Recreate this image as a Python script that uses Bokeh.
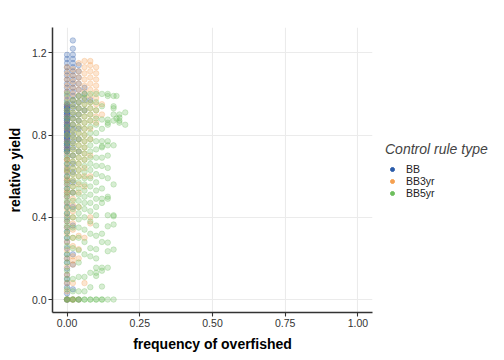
from bokeh.plotting import figure
from bokeh.models import Range1d, FixedTicker, PrintfTickFormatter, Legend, LegendItem
from bokeh.embed import file_html
from bokeh.resources import INLINE

# ---- data ----
series_names = ["BB", "BB3yr", "BB5yr"]
series_colors = ["#2B5CAA", "#F5A050", "#6DBE5D"]

bb_freq = [0.00, 0.02, 0.04, 0.06, 0.08]
bb_yield = [
    [0.00, 0.00, 0.00, 0.03, 0.06, 0.08, 0.10, 0.12, 0.15, 0.18, 0.20, 0.22, 0.25, 0.28, 0.30,
     0.33, 0.35, 0.38, 0.40, 0.42, 0.45, 0.47, 0.50, 0.52, 0.54, 0.56, 0.58, 0.60, 0.62, 0.64,
     0.66, 0.68, 0.70, 0.72, 0.73, 0.74, 0.75, 0.76, 0.77, 0.78, 0.79, 0.80, 0.81, 0.82, 0.83,
     0.84, 0.85, 0.86, 0.87, 0.88, 0.89, 0.90, 0.91, 0.92, 0.93, 0.94, 0.95, 0.97, 0.99, 1.01,
     1.03, 1.05, 1.07, 1.09, 1.11, 1.13, 1.15, 1.17, 1.19,
     0.72, 0.74, 0.76, 0.78, 0.80, 0.82, 0.84, 0.86, 0.88, 0.90, 0.92, 0.94,
     0.73, 0.75, 0.77, 0.79, 0.81, 0.83, 0.85, 0.87, 0.89, 0.91, 0.93, 0.95],
    [0.00, 0.05, 0.17, 0.22, 0.36, 0.45, 0.52, 0.57, 0.62, 0.66, 0.70, 0.74, 0.77, 0.80, 0.83,
     0.85, 0.88, 0.90, 0.93, 0.95, 0.97, 0.99, 1.01, 1.03, 1.05, 1.07, 1.09, 1.11, 1.13, 1.15,
     1.17, 1.19, 1.22, 1.26],
    [0.00, 0.72, 0.78, 0.83, 0.87, 0.90, 0.93, 0.96, 0.99, 1.02, 1.05, 1.08, 1.11, 1.14],
    [0.92, 0.97, 1.00, 1.03],
    [0.97],
]

bb3_freq = [0.00, 0.02, 0.04, 0.06, 0.08, 0.10, 0.12]
bb3_yield = [
    [0.00, 0.00, 0.04, 0.08, 0.12, 0.16, 0.20, 0.24, 0.28, 0.32, 0.35, 0.38, 0.41, 0.44, 0.47,
     0.50, 0.52, 0.53, 0.56, 0.58, 0.59, 0.62, 0.63, 0.65, 0.68, 0.68, 0.71, 0.74, 0.77, 0.80,
     0.83, 0.86, 0.89, 0.92, 0.95, 0.98, 1.01, 1.04, 1.07, 1.10, 1.13],
    [0.00, 0.00, 0.08, 0.17, 0.19, 0.21, 0.26, 0.30, 0.34, 0.37, 0.40, 0.43, 0.46, 0.49, 0.52,
     0.55, 0.58, 0.61, 0.64, 0.67, 0.70, 0.73, 0.76, 0.79, 0.82, 0.85, 0.88, 0.91, 0.94, 0.97,
     1.00, 1.03, 1.06, 1.09, 1.12],
    [0.00, 0.20, 0.245, 0.31, 0.45, 0.52, 0.56, 0.60, 0.63, 0.66, 0.69, 0.72, 0.75, 0.78, 0.81,
     0.84, 0.87, 0.90, 0.93, 0.96, 0.99, 1.02, 1.05, 1.08, 1.11, 1.15],
    [0.08, 0.30, 0.55, 0.60, 0.64, 0.68, 0.71, 0.74, 0.77, 0.80, 0.83, 0.86, 0.89, 0.92, 0.95,
     0.98, 1.01, 1.04, 1.07, 1.10, 1.13, 1.16],
    [0.37, 0.40, 0.60, 0.70, 0.78, 0.83, 0.87, 0.90, 0.93, 0.96, 0.99, 1.02, 1.05, 1.08, 1.11,
     1.14, 1.16],
    [0.86, 0.89, 0.92, 0.95, 0.98, 1.01, 1.04, 1.07, 1.10, 1.13],
    [0.90, 0.95],
]

bb5_freq = [0.00, 0.02, 0.04, 0.06, 0.08, 0.10, 0.12, 0.14, 0.16, 0.17, 0.18, 0.20]
bb5_yield = [
    [0.00, 0.00, 0.05, 0.10, 0.14, 0.18, 0.22, 0.26, 0.30, 0.33, 0.36, 0.39, 0.42, 0.45, 0.48,
     0.51, 0.54, 0.57, 0.60, 0.63, 0.66, 0.69, 0.72, 0.76, 0.80, 0.84, 0.88, 0.92, 0.96, 1.00],
    [0.00, 0.00, 0.04, 0.10, 0.25, 0.30, 0.35, 0.40, 0.44, 0.48, 0.52, 0.55, 0.58, 0.61, 0.64,
     0.67, 0.70, 0.73, 0.76, 0.79, 0.82, 0.85, 0.88, 0.91, 0.94, 0.97],
    [0.00, 0.00, 0.04, 0.11, 0.18, 0.24, 0.30, 0.35, 0.39, 0.42, 0.45, 0.48, 0.51, 0.54, 0.57,
     0.60, 0.63, 0.66, 0.69, 0.72, 0.75, 0.78, 0.81, 0.84, 0.87, 0.90, 0.93, 0.96, 0.99],
    [0.00, 0.00, 0.04, 0.11, 0.22, 0.28, 0.34, 0.40, 0.44, 0.47, 0.50, 0.53, 0.56, 0.59, 0.62,
     0.65, 0.68, 0.71, 0.74, 0.77, 0.80, 0.83, 0.86, 0.89, 0.92, 0.95, 0.98, 1.00],
    [0.00, 0.00, 0.06, 0.13, 0.21, 0.25, 0.32, 0.38, 0.43, 0.47, 0.51, 0.55, 0.59, 0.63, 0.66,
     0.69, 0.72, 0.75, 0.78, 0.81, 0.84, 0.87, 0.90, 0.93, 0.96, 1.00],
    [0.00, 0.00, 0.115, 0.13, 0.155, 0.20, 0.245, 0.31, 0.36, 0.41, 0.45, 0.49, 0.53, 0.57, 0.61,
     0.65, 0.69, 0.73, 0.77, 0.81, 0.85, 0.88, 0.92, 0.96, 1.00],
    [0.00, 0.00, 0.063, 0.14, 0.155, 0.28, 0.32, 0.47, 0.49, 0.54, 0.60, 0.65, 0.69, 0.74, 0.745,
     0.77, 0.83, 0.875, 0.94, 1.00],
    [0.00, 0.155, 0.235, 0.277, 0.356, 0.41, 0.49, 0.50, 0.59, 0.64, 0.70, 0.75, 0.77, 0.85,
     0.86, 0.875, 0.99, 1.00],
    [0.00, 0.243, 0.365, 0.405, 0.41, 0.56, 0.75, 0.87, 0.90, 0.93, 0.94, 0.99],
    [0.88, 0.99],
    [0.86, 0.87, 0.885, 0.90],
    [0.85, 0.91],
]

x_ticks = [0.0, 0.25, 0.5, 0.75, 1.0]
y_ticks = [0.0, 0.4, 0.8, 1.2]

FONT = "Liberation Sans"

p = figure(frame_width=320, frame_height=285, output_backend="svg", toolbar_location=None,
           x_range=Range1d(-0.05, 1.05), y_range=Range1d(-0.063, 1.323),
           min_border_left=52, min_border_right=120, min_border_top=27, min_border_bottom=35)
p.outline_line_color = None
p.background_fill_color = "white"
p.border_fill_color = "white"

for g in (p.xgrid[0], p.ygrid[0]):
    g.grid_line_color = "#EBEBEB"
    g.grid_line_width = 1.1
p.xgrid[0].ticker = FixedTicker(ticks=x_ticks)
p.ygrid[0].ticker = FixedTicker(ticks=y_ticks)

p.xaxis.ticker = FixedTicker(ticks=x_ticks)
p.yaxis.ticker = FixedTicker(ticks=y_ticks)
p.xaxis.formatter = PrintfTickFormatter(format="%.2f")
p.yaxis.formatter = PrintfTickFormatter(format="%.1f")
p.xaxis.axis_label = "frequency of overfished"
p.yaxis.axis_label = "relative yield"
for ax in (p.xaxis[0], p.yaxis[0]):
    ax.axis_line_color = "#333333"
    ax.axis_line_width = 1.5
    ax.major_tick_line_color = "#333333"
    ax.major_tick_line_width = 1.1
    ax.major_tick_out = 4
    ax.major_tick_in = 0
    ax.minor_tick_line_color = None
    ax.major_label_text_font = FONT
    ax.major_label_text_font_size = "10.5px"
    ax.major_label_text_color = "#333333"
    ax.major_label_standoff = 2
    ax.axis_label_text_font = FONT
    ax.axis_label_text_font_size = "14px"
    ax.axis_label_text_font_style = "bold"
    ax.axis_label_text_color = "black"
    ax.axis_label_standoff = 6

all_freq = [bb_freq, bb3_freq, bb5_freq]
all_yield = [bb_yield, bb3_yield, bb5_yield]
for freqs, ylists, color in zip(all_freq, all_yield, series_colors):
    xs, ys = [], []
    for f, col in zip(freqs, ylists):
        xs.extend([f] * len(col))
        ys.extend(col)
    p.scatter(xs, ys, size=5.5, fill_color=color, line_color=color,
              fill_alpha=0.27, line_alpha=0.27)

# legend-only renderers (opaque keys, nothing drawn in the plot area)
items = []
for name, color in zip(series_names, series_colors):
    r = p.scatter(x=[float("nan")], y=[float("nan")], size=5,
                  fill_color=color, line_color=color)
    items.append(LegendItem(label=name, renderers=[r]))

legend = Legend(items=items, location=(13, 113), title="Control rule type",
                title_text_font=FONT, title_text_font_size="14px",
                title_text_font_style="italic", title_standoff=6,
                label_text_font=FONT, label_text_font_size="10.5px",
                label_text_color="#222222",
                label_height=10, glyph_height=10, glyph_width=14, label_standoff=7,
                spacing=0, padding=0, margin=0,
                border_line_color=None, background_fill_alpha=0)
p.add_layout(legend, "right")

open("out.html", "w").write(file_html(p, INLINE))
